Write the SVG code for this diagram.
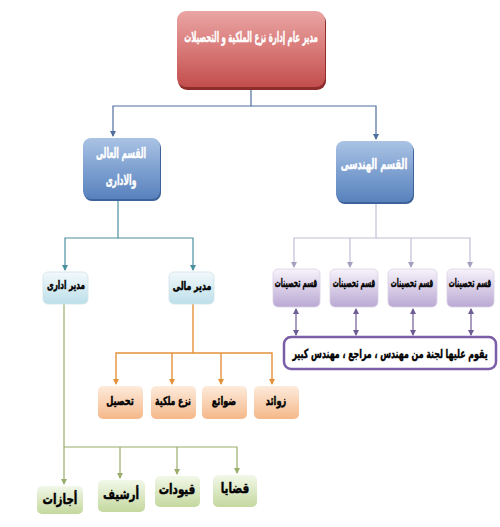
<svg xmlns="http://www.w3.org/2000/svg" width="500" height="527" viewBox="0 0 500 527">
<style>
text{font-family:"DejaVu Sans",sans-serif;font-weight:bold;text-anchor:middle;dominant-baseline:central;stroke-width:0.45}
.w{fill:#fff;stroke:#fff}
.k{fill:#000;stroke:#000}
.cb{fill:none;stroke:#4f6f9f;stroke-width:1.2}
.cp{fill:none;stroke:#c4bdd6;stroke-width:1.2}
.cd{fill:none;stroke:#6e5c94;stroke-width:1.2}
.ct{fill:none;stroke:#4b8fa0;stroke-width:1.2}
.co{fill:none;stroke:#e4913a;stroke-width:1.4}
.cg{fill:none;stroke:#9aae6c;stroke-width:1.2}
</style>
<defs>
<linearGradient id="gR" x1="0" y1="0" x2="0" y2="1"><stop offset="0" stop-color="#eaa5a4"/><stop offset="0.5" stop-color="#d87a78"/><stop offset="1" stop-color="#c24e4c"/></linearGradient>
<linearGradient id="gB" x1="0" y1="0" x2="0" y2="1"><stop offset="0" stop-color="#aac3e4"/><stop offset="0.5" stop-color="#7fa1d1"/><stop offset="1" stop-color="#5882bd"/></linearGradient>
<linearGradient id="gL" x1="0" y1="0" x2="0" y2="1"><stop offset="0" stop-color="#f3f9fb"/><stop offset="1" stop-color="#bcdfe9"/></linearGradient>
<linearGradient id="gP" x1="0" y1="0" x2="0" y2="1"><stop offset="0" stop-color="#f7f3fb"/><stop offset="1" stop-color="#baa8d3"/></linearGradient>
<linearGradient id="gO" x1="0" y1="0" x2="0" y2="1"><stop offset="0" stop-color="#fdebdc"/><stop offset="1" stop-color="#f5b889"/></linearGradient>
<linearGradient id="gG" x1="0" y1="0" x2="0" y2="1"><stop offset="0" stop-color="#f2f8e9"/><stop offset="1" stop-color="#c4d89e"/></linearGradient>
<marker id="aB" markerWidth="6" markerHeight="6" refX="5" refY="3" orient="auto" markerUnits="userSpaceOnUse"><path d="M0,0L6,3L0,6z" fill="#4f6f9f"/></marker>
<marker id="aP" markerWidth="6" markerHeight="6" refX="5" refY="3" orient="auto" markerUnits="userSpaceOnUse"><path d="M0,0L6,3L0,6z" fill="#a79fc0"/></marker>
<marker id="aD" markerWidth="6" markerHeight="6" refX="5" refY="3" orient="auto-start-reverse" markerUnits="userSpaceOnUse"><path d="M0,0L6,3L0,6z" fill="#6e5c94"/></marker>
<marker id="aT" markerWidth="6" markerHeight="6" refX="5" refY="3" orient="auto" markerUnits="userSpaceOnUse"><path d="M0,0L6,3L0,6z" fill="#4b8fa0"/></marker>
<marker id="aO" markerWidth="6" markerHeight="6" refX="5" refY="3" orient="auto" markerUnits="userSpaceOnUse"><path d="M0,0L6,3L0,6z" fill="#e4913a"/></marker>
<marker id="aG" markerWidth="6" markerHeight="6" refX="5" refY="3" orient="auto" markerUnits="userSpaceOnUse"><path d="M0,0L6,3L0,6z" fill="#9aae6c"/></marker>
</defs>
<rect width="500" height="527" fill="#fff"/>
<g id="connectors">
<path class="cb" d="M251,88V106H113V136" marker-end="url(#aB)"/>
<path class="cb" d="M251,106H376V139" marker-end="url(#aB)"/>
<path class="cp" d="M376,204V238H294V267" marker-end="url(#aP)"/>
<path class="cp" d="M350,238V267" marker-end="url(#aP)"/>
<path class="cp" d="M411,238V267" marker-end="url(#aP)"/>
<path class="cp" d="M376,238H470V267" marker-end="url(#aP)"/>
<path class="cd" d="M296,309V335" marker-start="url(#aD)" marker-end="url(#aD)"/>
<path class="cd" d="M356,309V335" marker-start="url(#aD)" marker-end="url(#aD)"/>
<path class="cd" d="M413,309V335" marker-start="url(#aD)" marker-end="url(#aD)"/>
<path class="cd" d="M471,309V335" marker-start="url(#aD)" marker-end="url(#aD)"/>
<path class="ct" d="M118,200V238H65V270" marker-end="url(#aT)"/>
<path class="ct" d="M118,238H193V270" marker-end="url(#aT)"/>
<path class="co" d="M193,304V353H116V384" marker-end="url(#aO)"/>
<path class="co" d="M172,353V384" marker-end="url(#aO)"/>
<path class="co" d="M221,353V384" marker-end="url(#aO)"/>
<path class="co" d="M193,353H272V384" marker-end="url(#aO)"/>
<path class="cg" d="M64,304V447H237V473" marker-end="url(#aG)"/>
<path class="cg" d="M64,447V484" marker-end="url(#aG)"/>
<path class="cg" d="M120,447V478" marker-end="url(#aG)"/>
<path class="cg" d="M177,447V474" marker-end="url(#aG)"/>
</g>
<g id="gm">
<rect x="178" y="13" width="148" height="77" rx="9" fill="#8e2e2c"/>
<rect x="177" y="11" width="148" height="76" rx="9" fill="url(#gR)"/>
<text class="w" transform="translate(251,38) scale(0.5,1)" font-size="14">مدير عام إدارة نزع الملكية و التحصيلات</text>
</g>
<g id="aly">
<rect x="84" y="140" width="77" height="61" rx="8" fill="#3d639a"/>
<rect x="83" y="138" width="77" height="61" rx="8" fill="url(#gB)"/>
<text class="w" transform="translate(121,154) scale(0.54,1)" font-size="14">القسم العالى</text>
<text class="w" transform="translate(121,181) scale(0.54,1)" font-size="14">والادارى</text>
</g>
<g id="handasi">
<rect x="337" y="143" width="77" height="61" rx="8" fill="#3d639a"/>
<rect x="336" y="141" width="77" height="61" rx="8" fill="url(#gB)"/>
<text class="w" transform="translate(374,164) scale(0.6,1)" font-size="14">القسم الهندسى</text>
</g>
<g id="idari">
<rect x="43" y="272" width="45" height="32" rx="5" fill="url(#gL)" stroke="#cfe3ea" stroke-width="0.8"/>
<text class="k" transform="translate(66,285) scale(0.63,1)" font-size="11.5">مدير ادارى</text>
</g>
<g id="mali">
<rect x="169" y="272" width="45" height="32" rx="5" fill="url(#gL)" stroke="#cfe3ea" stroke-width="0.8"/>
<text class="k" transform="translate(192,286) scale(0.68,1)" font-size="11.5">مدير مالى</text>
</g>
<g id="p1"><rect x="273" y="269" width="47" height="38" rx="5" fill="url(#gP)" stroke="#d9d0e6" stroke-width="0.8"/><text class="k" transform="translate(296,283) scale(0.52,1)" font-size="11.5">قسم تحصينات</text></g>
<g id="p2"><rect x="330" y="269" width="48" height="38" rx="5" fill="url(#gP)" stroke="#d9d0e6" stroke-width="0.8"/><text class="k" transform="translate(354,283) scale(0.52,1)" font-size="11.5">قسم تحصينات</text></g>
<g id="p3"><rect x="388" y="269" width="49" height="38" rx="5" fill="url(#gP)" stroke="#d9d0e6" stroke-width="0.8"/><text class="k" transform="translate(412,283) scale(0.52,1)" font-size="11.5">قسم تحصينات</text></g>
<g id="p4"><rect x="447" y="269" width="47" height="38" rx="5" fill="url(#gP)" stroke="#d9d0e6" stroke-width="0.8"/><text class="k" transform="translate(470,283) scale(0.52,1)" font-size="11.5">قسم تحصينات</text></g>
<g id="lajna">
<rect x="284" y="337" width="212" height="32" rx="7" fill="#fff" stroke="#7b5ea8" stroke-width="2.5"/>
<text class="k" transform="translate(390,353) scale(0.63,1)" font-size="12.5">يقوم عليها لجنة من مهندس ، مراجع ، مهندس كبير</text>
</g>
<g id="o1"><rect x="98" y="386" width="45" height="33" rx="5" fill="url(#gO)"/><text class="k" transform="translate(120,401) scale(0.71,1)" font-size="11.5">تحصيل</text></g>
<g id="o2"><rect x="151" y="386" width="45" height="33" rx="5" fill="url(#gO)"/><text class="k" transform="translate(173,401) scale(0.67,1)" font-size="11.5">نزع ملكية</text></g>
<g id="o3"><rect x="202" y="386" width="45" height="33" rx="5" fill="url(#gO)"/><text class="k" transform="translate(224,401) scale(0.71,1)" font-size="11.5">ضوائع</text></g>
<g id="o4"><rect x="254" y="386" width="45" height="33" rx="5" fill="url(#gO)"/><text class="k" transform="translate(276,401) scale(0.71,1)" font-size="11.5">زوائد</text></g>
<g id="g1"><rect x="37" y="486" width="46" height="28" rx="5" fill="url(#gG)"/><text class="k" transform="translate(60,499) scale(0.74,1)" font-size="14">أجازات</text></g>
<g id="g2"><rect x="98" y="480" width="47" height="32" rx="5" fill="url(#gG)"/><text class="k" transform="translate(121,494) scale(0.74,1)" font-size="14">أرشيف</text></g>
<g id="g3"><rect x="155" y="476" width="45" height="31" rx="5" fill="url(#gG)"/><text class="k" transform="translate(177,489) scale(0.74,1)" font-size="14">قيودات</text></g>
<g id="g4"><rect x="213" y="475" width="44" height="32" rx="5" fill="url(#gG)"/><text class="k" transform="translate(235,488) scale(0.74,1)" font-size="14">قضايا</text></g>
</svg>
